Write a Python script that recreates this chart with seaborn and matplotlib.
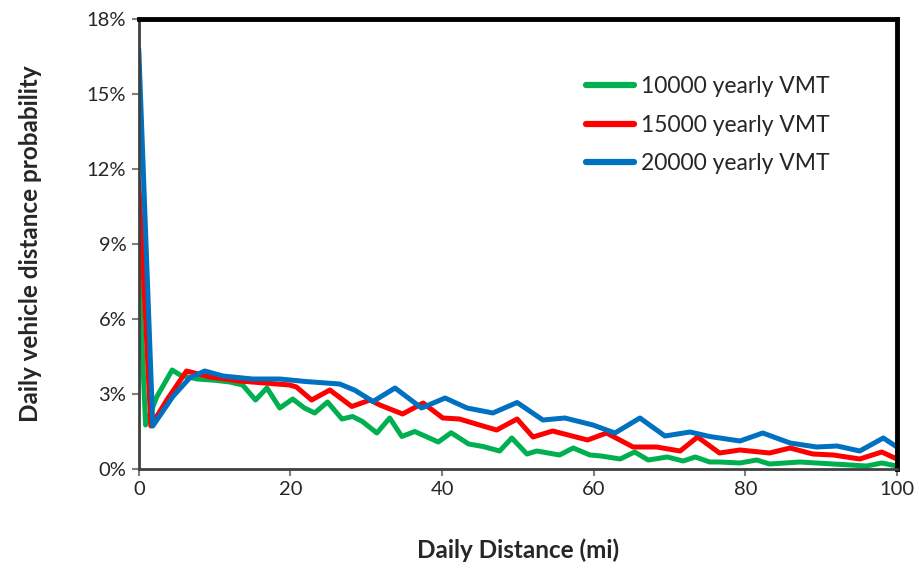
import matplotlib
matplotlib.use("Agg")
import matplotlib.pyplot as plt
import seaborn as sns
import pandas as pd
from matplotlib.ticker import FuncFormatter

# Data (daily distance in miles, probability in %)
green_x = [0, 0.9, 2.4, 4.4, 5.5, 7.7, 10, 12, 13.7, 15.4, 16.9, 18.6, 20.3, 21.8, 23.2, 24.9,
           26.8, 28.2, 29.5, 31.4, 33.1, 34.7, 36.4, 39.5, 41.2, 43.5, 45.4, 47.6, 49.2, 51.2,
           52.5, 55.5, 57.3, 59.5, 61, 63.5, 65.4, 67.2, 69.7, 71.8, 73.4, 75.3, 76.6, 79.3,
           81.5, 83.2, 87.2, 91.6, 96, 98, 100]
green_y = [8.0, 1.76, 2.9, 3.96, 3.75, 3.6, 3.55, 3.48, 3.36, 2.76, 3.24, 2.44, 2.8, 2.45, 2.24, 2.68,
           2.0, 2.1, 1.9, 1.44, 2.04, 1.3, 1.5, 1.08, 1.45, 1.0, 0.9, 0.72, 1.24, 0.6,
           0.72, 0.56, 0.84, 0.56, 0.52, 0.4, 0.68, 0.36, 0.48, 0.32, 0.48, 0.28, 0.28, 0.24,
           0.36, 0.2, 0.28, 0.2, 0.12, 0.24, 0.12]

red_x = [0, 1.6, 3.7, 6.3, 9.4, 13.3, 19.9, 20.8, 22.8, 25.2, 28.1, 30.5, 31.8, 34.8, 37.5,
         40.1, 42.3, 44.5, 47.2, 49.9, 52, 54.6, 59.2, 61.7, 65.2, 68.3, 71.4, 73.7, 76.6,
         79.3, 83.2, 85.9, 88.9, 91.6, 95.1, 98, 100]
red_y = [11.5, 1.72, 2.76, 3.92, 3.68, 3.52, 3.36, 3.28, 2.76, 3.16, 2.5, 2.76, 2.56, 2.2, 2.64,
         2.04, 2.0, 1.8, 1.56, 2.0, 1.28, 1.52, 1.16, 1.44, 0.88, 0.88, 0.72, 1.28, 0.64,
         0.76, 0.64, 0.84, 0.6, 0.56, 0.4, 0.68, 0.4]

blue_x = [0, 1.85, 4.5, 6.7, 8.7, 11.1, 15, 18.6, 22, 26.5, 28.5, 30.9, 33.8, 37.3, 40.4,
          43.3, 46.7, 49.9, 53.3, 56.2, 59.9, 62.8, 66.1, 69.4, 72.7, 75.3, 79.3, 82.3, 85.9,
          89.4, 92.1, 95.1, 98.2, 100]
blue_y = [16.8, 1.72, 2.9, 3.64, 3.92, 3.72, 3.6, 3.6, 3.5, 3.4, 3.15, 2.7, 3.24, 2.44, 2.84,
          2.44, 2.24, 2.66, 1.96, 2.04, 1.76, 1.44, 2.04, 1.32, 1.48, 1.3, 1.12, 1.44, 1.04,
          0.88, 0.92, 0.72, 1.24, 0.88]

labels = ["10000 yearly VMT", "15000 yearly VMT", "20000 yearly VMT"]
colors = ["#00B050", "#FF0000", "#0070C0"]
x_ticks = [0, 20, 40, 60, 80, 100]
y_ticks = [0, 3, 6, 9, 12, 15, 18]

sns.set_style("white")
plt.rcParams['font.family'] = ['Lato', 'DejaVu Sans']

fig = plt.figure(figsize=(9.19, 5.68), dpi=100)
ax = fig.add_axes([0.151, 0.1743, 0.825, 0.7922])

series = [(green_x, green_y), (red_x, red_y), (blue_x, blue_y)]
for (xs, ys), lab, col in zip(series, labels, colors):
    df = pd.DataFrame({"x": xs, "y": ys})
    sns.lineplot(data=df, x="x", y="y", ax=ax, color=col, linewidth=3.6,
                 label=lab, sort=False, solid_joinstyle="round", solid_capstyle="round")

ax.set_xlim(0, 100)
ax.set_ylim(0, 18)
ax.set_xticks(x_ticks)
ax.set_yticks(y_ticks)
ax.yaxis.set_major_formatter(FuncFormatter(lambda v, p: f"{v:.0f}%"))
ax.tick_params(axis="both", which="major", labelsize=14.5, direction="out",
               length=5, width=1.5, color="#7f7f7f", left=True, bottom=True, pad=4)

for side in ["top", "right"]:
    ax.spines[side].set_color("black")
    ax.spines[side].set_linewidth(3.5)
for side in ["left", "bottom"]:
    ax.spines[side].set_color("#404040")
    ax.spines[side].set_linewidth(2)

ax.set_xlabel("Daily Distance (mi)", fontsize=17.5, fontweight="bold", labelpad=29)
ax.set_ylabel("Daily vehicle distance probability", fontsize=17.5, fontweight="bold", labelpad=32)

leg = ax.legend(loc="upper left", bbox_to_anchor=(0.563, 0.92), frameon=False,
                fontsize=16.5, handlelength=2.1, handletextpad=0.3, labelspacing=0.78)
for line in leg.get_lines():
    line.set_linewidth(4.5)

fig.savefig("out.png", dpi=100)
